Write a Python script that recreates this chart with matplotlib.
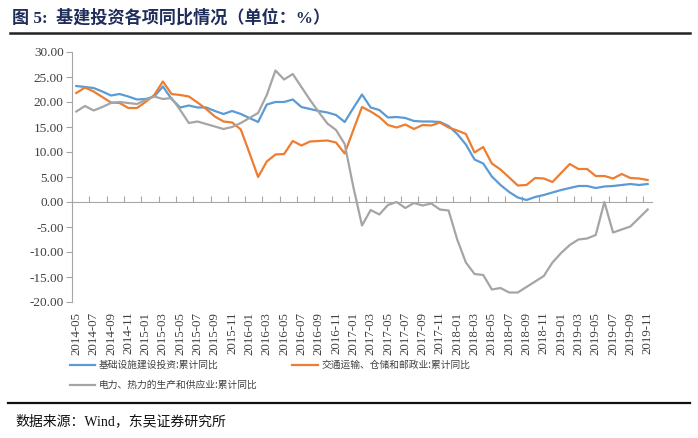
import matplotlib
matplotlib.use("Agg")
import matplotlib.pyplot as plt
import pandas as pd
from matplotlib.lines import Line2D

# ---- data -------------------------------------------------------------
months = [p.strftime("%Y-%m") for p in pd.period_range("2014-05", "2019-11", freq="M")]

infra = [23.2, 23.0, 22.8, 22.1, 21.3, 21.6, 21.1, 20.5, 20.6, 21.1,
         23.1, 20.6, 18.9, 19.3, 18.9, 18.9, 18.2, 17.6, 18.2, 17.6,
         16.8, 16.0, 19.5, 20.0, 20.0, 20.5, 19.0, 18.6, 18.2, 17.9,
         17.4, 16.0, 18.8, 21.5, 18.9, 18.4, 16.9, 17.0, 16.8, 16.2,
         16.1, 16.1, 16.0, 15.2, 13.6, 11.5, 8.5, 7.7, 5.1, 3.4,
         2.0, 0.9, 0.4, 1.0, 1.4, 1.9, 2.4, 2.8, 3.2, 3.2,
         2.8, 3.1, 3.2, 3.4, 3.6, 3.4, 3.6]

transport = [21.8, 22.9, 22.1, 21.0, 19.9, 19.8, 18.8, 18.8, 20.0, 21.4,
             24.1, 21.6, 21.4, 21.1, 19.9, 18.6, 17.1, 16.1, 15.9, 14.5,
             9.8, 5.0, 8.1, 9.5, 9.6, 12.2, 11.3, 12.1, 12.2, 12.3,
             11.9, 9.7, 14.4, 19.0, 18.1, 17.0, 15.4, 14.9, 15.5, 14.6,
             15.4, 15.3, 15.9, 14.9, 14.3, 13.6, 9.9, 11.0, 7.7, 6.5,
             4.9, 3.3, 3.4, 4.8, 4.7, 4.0, 5.8, 7.6, 6.6, 6.6,
             5.2, 5.2, 4.7, 5.6, 4.8, 4.7, 4.4]

power = [18.1, 19.2, 18.3, 19.0, 19.8, 20.0, 19.8, 19.6, 20.4, 21.1,
         20.6, 20.8, 18.4, 15.8, 16.1, 15.6, 15.1, 14.6, 15.0, 15.8,
         16.8, 17.8, 21.4, 26.3, 24.5, 25.6, 23.0, 20.4, 18.0, 15.7,
         14.4, 11.6, 3.0, -4.7, -1.6, -2.5, -0.6, 0.0, -1.2, -0.2,
         -0.7, -0.3, -1.5, -1.7, -7.5, -12.1, -14.4, -14.6, -17.5, -17.2,
         -18.1, -18.1, -17.0, -15.9, -14.8, -12.1, -10.2, -8.6, -7.5, -7.3,
         -6.6, 0.0, -6.1, -5.5, -4.9, -3.2, -1.5]

labels = ["基础设施建设投资:累计同比",
          "交通运输、仓储和邮政业:累计同比",
          "电力、热力的生产和供应业:累计同比"]
colors = ["#5B9BD5", "#ED7D31", "#A5A5A5"]

y_ticks = [30, 25, 20, 15, 10, 5, 0, -5, -10, -15, -20]

title_text = "图 5:  基建投资各项同比情况（单位：%）"
source_text = "数据来源：Wind，东吴证券研究所"

# ---- figure -----------------------------------------------------------
plt.rcParams["font.family"] = ["Liberation Serif", "Noto Sans CJK SC", "DejaVu Sans"]

W, H = 698, 438
fig = plt.figure(figsize=(W / 100, H / 100), dpi=100)
ax = fig.add_axes([72 / W, 136 / H, 580 / W, 250 / H])

x = list(range(len(months)))
handles = []
for series, lab, c in zip([infra, transport, power], labels, colors):
    h, = ax.plot(x, series, color=c, lw=1.6, label=lab, solid_joinstyle="round")
    handles.append(h)

ax.set_xlim(-0.5, len(months) - 0.5)
ax.set_ylim(-20, 30)

axis_col = "#A6A6A6"
text_col = "#404040"

for s in ["top", "right"]:
    ax.spines[s].set_visible(False)
ax.spines["left"].set_color(axis_col)
ax.spines["bottom"].set_color(axis_col)
ax.spines["bottom"].set_position(("data", 0))

ax.set_yticks(y_ticks)
ax.set_yticklabels([f"{v:.2f}" for v in y_ticks])
ax.tick_params(axis="y", direction="out", length=4, width=0.8, color=axis_col,
               labelsize=9.5, labelcolor=text_col, pad=2)

# tick marks between category pairs on the zero line
ax.set_xticks([i - 0.5 for i in range(0, len(months), 2)])
ax.set_xticklabels([])
ax.tick_params(axis="x", direction="in", length=4, width=0.8, color=axis_col)

# category labels at the bottom of the plot area
sec = ax.secondary_xaxis("bottom")
sec.set_xticks(x[::2])
sec.set_xticklabels(months[::2], rotation=90, ha="center", va="top")
sec.tick_params(axis="x", length=0, labelsize=9.3, labelcolor=text_col, pad=7)
sec.spines["bottom"].set_visible(False)

# legend
order = [0, 2, 1]
leg = fig.legend([handles[i] for i in order], [labels[i] for i in order],
                 ncol=2, loc="upper left", bbox_to_anchor=(70 / W, 1 - 360 / H),
                 frameon=False, prop={"family": ["Noto Sans CJK SC"], "size": 7.0},
                 handlelength=2.6, handletextpad=0.35, columnspacing=3.6,
                 labelspacing=1.05, borderpad=0, borderaxespad=0)
for t in leg.get_texts():
    t.set_color(text_col)

# title, rules, source
fig.text(12 / W, 1 - 18 / H, title_text, fontsize=12.3, fontweight="bold",
         color="#1F2D5A", va="center", ha="left",
         family=["Liberation Serif", "Noto Sans CJK SC"])
fig.add_artist(Line2D([10 / W, 690 / W], [1 - 33 / H, 1 - 33 / H],
                      color="#222222", lw=1.8, transform=fig.transFigure))
fig.add_artist(Line2D([8 / W, 690 / W], [1 - 403 / H, 1 - 403 / H],
                      color="#111111", lw=1.6, transform=fig.transFigure))
fig.text(15 / W, 1 - 421 / H, source_text, fontsize=10, color="#111111",
         va="center", ha="left", family=["Liberation Serif", "Noto Sans CJK SC"])

fig.savefig("out.png", dpi=100)
